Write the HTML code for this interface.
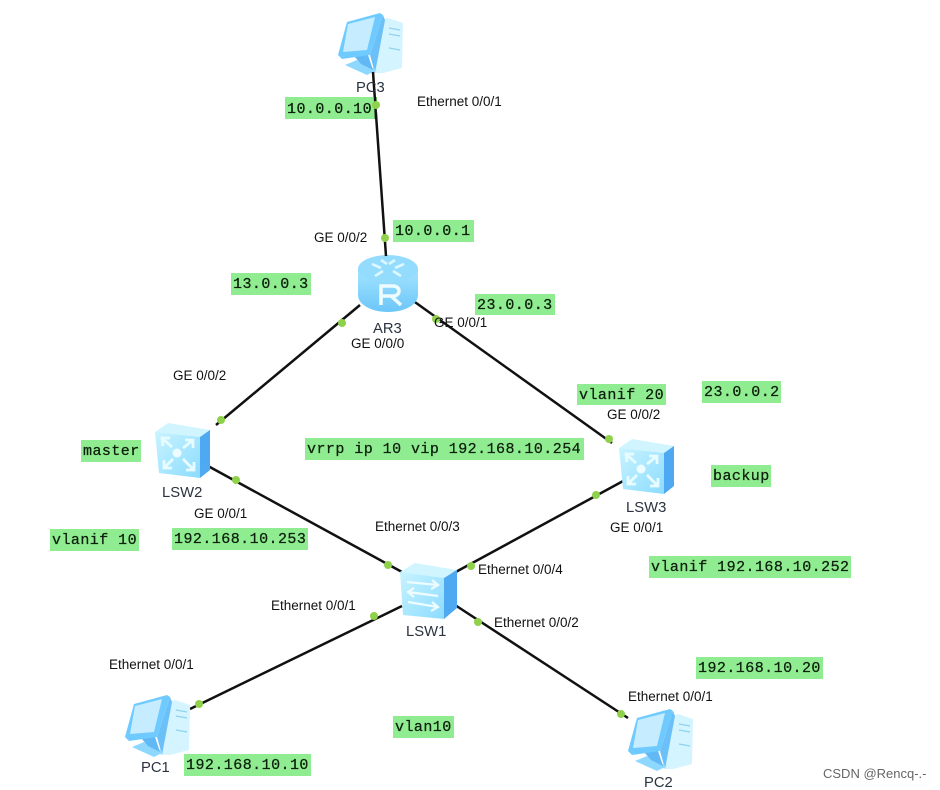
<!DOCTYPE html>
<html><head><meta charset="utf-8"><style>
html,body{margin:0;padding:0;background:#fff}
svg{display:block}
.g{font:15px "Liberation Mono",monospace;fill:#0c1f0c;letter-spacing:.45px;stroke:#0c1f0c;stroke-width:.25px}
.t{font:13.500px "Liberation Sans",sans-serif;fill:#111}
.n{font:14.800px "Liberation Sans",sans-serif;fill:#2a3340}
</style></head><body>
<svg width="940" height="790" viewBox="0 0 940 790" xmlns="http://www.w3.org/2000/svg">
<defs>
<linearGradient id="front" x1="0" y1="0" x2="1" y2="1"><stop offset="0" stop-color="#c8f3ff"/><stop offset="1" stop-color="#8cdcff"/></linearGradient>
<linearGradient id="rb" x1="0" y1="0" x2="0" y2="1"><stop offset="0" stop-color="#a4e4ff"/><stop offset="1" stop-color="#6cc6f8"/></linearGradient>
<g id="pc">
<path d="M45 8 L51 6 L66 11 L65 56 L46 61 L36 61Z" fill="#d4f4ff"/>
<path d="M52 16 L63 18 M52 22 L63 24 M52 36 L63 38" stroke="#8fd2ee" stroke-width="1.200"/>
<path d="M46 3 L48 8 L38 61 L33 43Z" fill="#6cc0f8"/>
<path d="M20 48 L8 53 L30 63 L40 58Z" fill="#8ed8ff"/>
<path d="M17 44 L30 40 L36 58 L24 52Z" fill="#62b8f5"/>
<path d="M10 10 L43 1 L46 3 L33 43 L5 47 L1 43Z" fill="#6fcaff"/>
<path d="M11 12 L38 5 L30 38 L6 40Z" fill="#c6ecff"/>
</g>
<g id="router">
<path d="M0 14 V40 C0 50 14 57 30 57 C46 57 60 50 60 40 V14Z" fill="url(#rb)"/>
<ellipse cx="30" cy="14" rx="30" ry="14" fill="#93dcfd"/>
<path d="M14 9 L23 13 M46 9 L37 13 M17 21 L25 16 M43 21 L35 16 M23 5 L29 9 M37 5 L31 9" stroke="#dcf7ff" stroke-width="2.800" fill="none"/>
<path d="M23 50 V31 H35 C43 31 43 41 35 41 H23 M33 41 L43 50" fill="none" stroke="#eefcff" stroke-width="3.500"/>
</g>
<g id="l3">
<path d="M1 11 L14 2 L56 9 L46 16Z" fill="#d0f5ff"/>
<path d="M46 16 L56 9 L56 49 L46 57Z" fill="#4fa9f2"/>
<path d="M1 11 L46 16 L46 57 L5 52Z" fill="url(#front)"/>
<g stroke="#e8fcff" stroke-width="2.800" fill="none">
<path d="M8 17 L18 26 M9 25 L8 17 L16 17"/>
<path d="M39 19 L29 27 M31 19 L39 19 L39 27"/>
<path d="M10 47 L19 38 M10 39 L10 47 L18 47"/>
<path d="M40 49 L29 38 M40 41 L40 49 L32 49"/>
</g>
<circle cx="23" cy="32" r="4.500" fill="#eefcff"/>
</g>
<g id="l2">
<path d="M0 10 L15 1 L57 8 L44 16Z" fill="#d0f5ff"/>
<path d="M44 16 L57 8 L57 46 L44 57Z" fill="#4fa9f2"/>
<path d="M0 10 L44 16 L44 57 L3 53Z" fill="url(#front)"/>
<g stroke="#eefcff" stroke-width="2.200" fill="none">
<path d="M7 20 L38 23 M32 18 L38 23 L31 27"/>
<path d="M8 30 L38 34 M14 26 L8 30 L14 35"/>
<path d="M8 40 L38 45 M32 40 L38 45 L31 49"/>
</g>
</g>
</defs>
<rect width="940" height="790" fill="#fff"/>
<g stroke="#111" stroke-width="2.500" fill="none">
<line x1="360" y1="305" x2="216" y2="425"/>
<line x1="412" y1="300" x2="612" y2="443"/>
<line x1="208" y1="466" x2="402" y2="572"/>
<line x1="625" y1="480" x2="452" y2="574"/>
<line x1="402" y1="606" x2="190" y2="709"/>
<line x1="455" y1="605" x2="628" y2="718"/>
</g>
<use href="#pc" x="337" y="12"/>
<use href="#router" x="358" y="255"/>
<use href="#l3" x="154" y="421"/>
<use href="#l3" x="618" y="437"/>
<use href="#l2" x="400" y="562"/>
<use href="#pc" x="124" y="694"/>
<use href="#pc" x="627" y="708"/>
<line x1="373" y1="72" x2="386" y2="256" stroke="#111" stroke-width="2.500"/>
<g fill="#8fd14a">
<circle cx="342" cy="323" r="4"/><circle cx="436" cy="319" r="4"/>
<circle cx="221" cy="420" r="4"/><circle cx="609" cy="439" r="4"/><circle cx="236" cy="480" r="4"/><circle cx="596" cy="495" r="4"/>
<circle cx="388" cy="565" r="4"/><circle cx="471" cy="566" r="4"/><circle cx="374" cy="616" r="4"/><circle cx="478" cy="622" r="4"/>
<circle cx="199" cy="704" r="4"/><circle cx="621" cy="714" r="4"/>
</g>
<g class="n">
<text x="356" y="92">PC3</text>
<text x="373" y="333">AR3</text>
<text x="162" y="497">LSW2</text>
<text x="626" y="512">LSW3</text>
<text x="406" y="636">LSW1</text>
<text x="141" y="772">PC1</text>
<text x="644" y="787">PC2</text>
</g>
<g fill="#90ec90">
<rect x="285" y="97" width="92" height="22"/>
<rect x="393" y="220" width="81" height="22"/>
<rect x="231" y="273" width="80" height="22"/>
<rect x="475" y="294" width="80" height="21"/>
<rect x="577" y="384" width="89" height="21"/>
<rect x="702" y="381" width="79" height="22"/>
<rect x="81" y="440" width="60" height="22"/>
<rect x="305" y="438" width="279" height="22"/>
<rect x="711" y="465" width="60" height="22"/>
<rect x="50" y="529" width="89" height="22"/>
<rect x="172" y="528" width="136" height="22"/>
<rect x="649" y="556" width="202" height="22"/>
<rect x="696" y="657" width="127" height="22"/>
<rect x="393" y="716" width="61" height="22"/>
<rect x="184" y="754" width="127" height="22"/>
</g>
<line x1="375" y1="97" x2="376" y2="119" stroke="#111" stroke-width="2.500"/>
<circle cx="376" cy="105" r="4" fill="#8fd14a"/>
<circle cx="385" cy="238" r="4" fill="#8fd14a"/>
<g class="g">
<text x="287" y="113">10.0.0.10</text>
<text x="395" y="235">10.0.0.1</text>
<text x="233" y="288">13.0.0.3</text>
<text x="477" y="309">23.0.0.3</text>
<text x="579" y="399">vlanif 20</text>
<text x="704" y="396">23.0.0.2</text>
<text x="83" y="455">master</text>
<text x="307" y="453">vrrp ip 10 vip 192.168.10.254</text>
<text x="713" y="480">backup</text>
<text x="52" y="544">vlanif 10</text>
<text x="174" y="543">192.168.10.253</text>
<text x="651" y="571">vlanif 192.168.10.252</text>
<text x="698" y="672">192.168.10.20</text>
<text x="395" y="731">vlan10</text>
<text x="186" y="769">192.168.10.10</text>
</g>
<g class="t">
<text x="417" y="106">Ethernet 0/0/1</text>
<text x="314" y="242">GE 0/0/2</text>
<text x="434" y="327">GE 0/0/1</text>
<text x="351" y="348">GE 0/0/0</text>
<text x="173" y="380">GE 0/0/2</text>
<text x="607" y="419">GE 0/0/2</text>
<text x="194" y="518">GE 0/0/1</text>
<text x="610" y="532">GE 0/0/1</text>
<text x="375" y="531">Ethernet 0/0/3</text>
<text x="478" y="574">Ethernet 0/0/4</text>
<text x="271" y="610">Ethernet 0/0/1</text>
<text x="494" y="627">Ethernet 0/0/2</text>
<text x="109" y="669">Ethernet 0/0/1</text>
<text x="628" y="701">Ethernet 0/0/1</text>
</g>
<text x="823" y="778" style="font:13px 'Liberation Sans',sans-serif;fill:#666">CSDN @Rencq-.-</text>
</svg>
</body></html>
